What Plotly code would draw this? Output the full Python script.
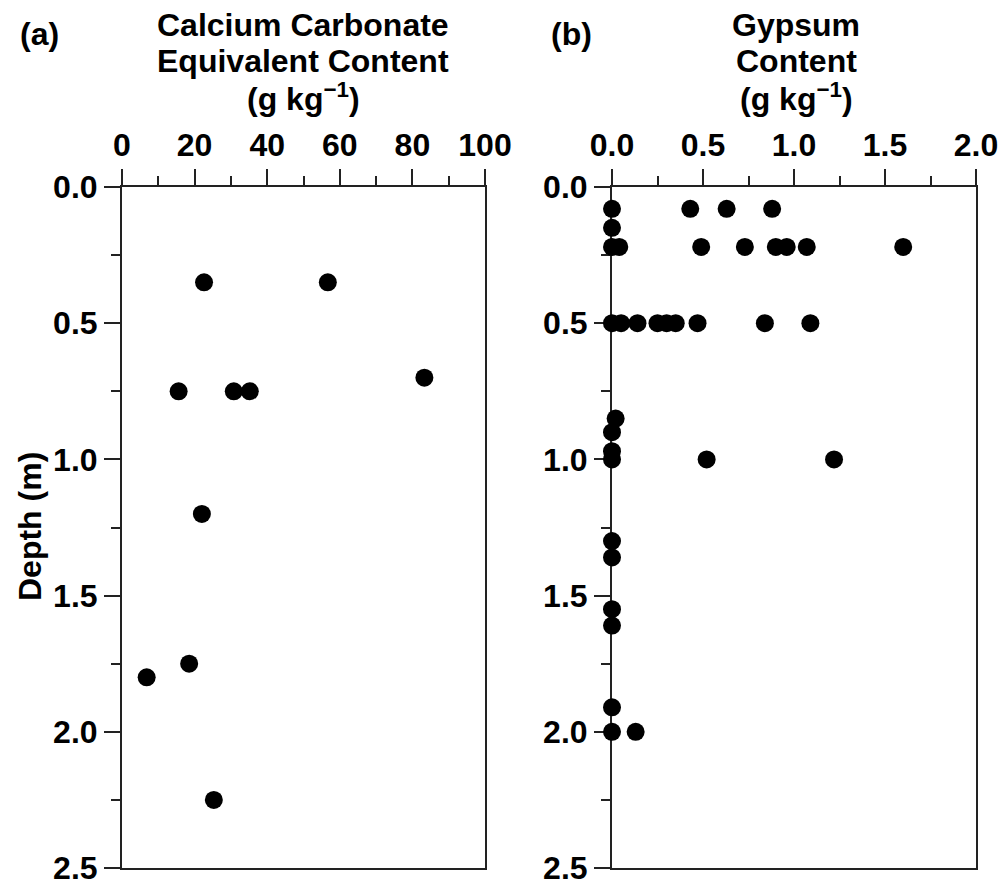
import plotly.graph_objects as go

# Panel (a): calcium carbonate equivalent content
caco3_content = [22.6, 56.7, 15.6, 30.8, 35.2, 83.3, 22.0, 18.5, 6.8, 25.3]
caco3_depth = [0.35, 0.35, 0.75, 0.75, 0.75, 0.70, 1.20, 1.75, 1.80, 2.25]

# Panel (b): gypsum content
gypsum_content = [0.0, 0.43, 0.63, 0.88,
                  0.0,
                  0.0, 0.04, 0.49, 0.73, 0.90, 0.96, 1.07, 1.60,
                  0.0, 0.05, 0.14, 0.25, 0.30, 0.35, 0.47, 0.84, 1.09,
                  0.02, 0.0, 0.0,
                  0.0, 0.52, 1.22,
                  0.0, 0.0, 0.0, 0.0, 0.0,
                  0.0, 0.13]
gypsum_depth = [0.08, 0.08, 0.08, 0.08,
                0.15,
                0.22, 0.22, 0.22, 0.22, 0.22, 0.22, 0.22, 0.22,
                0.50, 0.50, 0.50, 0.50, 0.50, 0.50, 0.50, 0.50, 0.50,
                0.85, 0.90, 0.97,
                1.00, 1.00, 1.00,
                1.30, 1.36, 1.55, 1.61, 1.91,
                2.00, 2.00]

FONT = "Liberation Sans, Arial, sans-serif"
FS = 32
LC = "#222222"
W, H = 1001, 886

fig = go.Figure()
fig.add_trace(go.Scatter(x=caco3_content, y=caco3_depth, mode="markers",
                         marker=dict(size=18, color="black"),
                         cliponaxis=False, xaxis="x", yaxis="y", showlegend=False))
fig.add_trace(go.Scatter(x=gypsum_content, y=gypsum_depth, mode="markers",
                         marker=dict(size=18, color="black"),
                         cliponaxis=False, xaxis="x2", yaxis="y2", showlegend=False))

tickfont = dict(family=FONT, size=FS, color="black", weight="bold")

def xax(dom, rng, dt, mdt, fmt, anchor):
    return dict(domain=dom, range=rng, side="top", anchor=anchor,
                tick0=0, dtick=dt, tickformat=fmt, automargin=False,
                ticklabeloverflow="allow",
                ticks="outside", ticklen=16, tickwidth=2, tickcolor=LC,
                showline=True, linewidth=2, linecolor=LC, mirror=True,
                showgrid=False, zeroline=False, tickfont=tickfont,
                layer="below traces",
                minor=dict(dtick=mdt, tick0=0, ticks="outside", ticklen=9,
                           tickwidth=2, tickcolor=LC, showgrid=False))

def yax(anchor):
    return dict(domain=[18 / H, 699 / H], range=[2.5, 0], anchor=anchor,
                tick0=0, dtick=0.5, tickformat=".1f", automargin=False,
                ticklabeloverflow="allow",
                ticks="outside", ticklen=16, tickwidth=2, tickcolor=LC,
                showline=True, linewidth=2, linecolor=LC, mirror=True,
                showgrid=False, zeroline=False, tickfont=tickfont,
                layer="below traces",
                minor=dict(dtick=0.25, tick0=0, ticks="outside", ticklen=9,
                           tickwidth=2, tickcolor=LC, showgrid=False))

fig.update_layout(
    width=W, height=H,
    margin=dict(l=0, r=0, t=0, b=0, pad=0, autoexpand=False),
    paper_bgcolor="white", plot_bgcolor="white",
    xaxis=xax([122 / W, 485 / W], [0, 100], 20, 10, "d", "y"),
    yaxis=yax("x"),
    xaxis2=xax([612 / W, 976 / W], [0, 2], 0.5, 0.25, ".1f", "y2"),
    yaxis2=yax("x2"),
)

def ann(text, x, y, xanchor="center", angle=0):
    fig.add_annotation(text=text, x=x / W, y=1 - y / H, xref="paper", yref="paper",
                       xanchor=xanchor, yanchor="middle", showarrow=False,
                       textangle=angle,
                       font=dict(family=FONT, size=FS, color="black", weight="bold"))

ann("(a)", 18, 34, "left")
ann("(b)", 549, 34, "left")
ann("Calcium Carbonate", 303, 25)
ann("Equivalent Content", 303, 61)
ann("(g kg<sup>−1</sup>)", 303, 97)
ann("Gypsum", 796, 25)
ann("Content", 796, 61)
ann("(g kg<sup>−1</sup>)", 796, 97)
ann("Depth (m)", 30, 527, "center", -90)

fig.write_html("out.html")
